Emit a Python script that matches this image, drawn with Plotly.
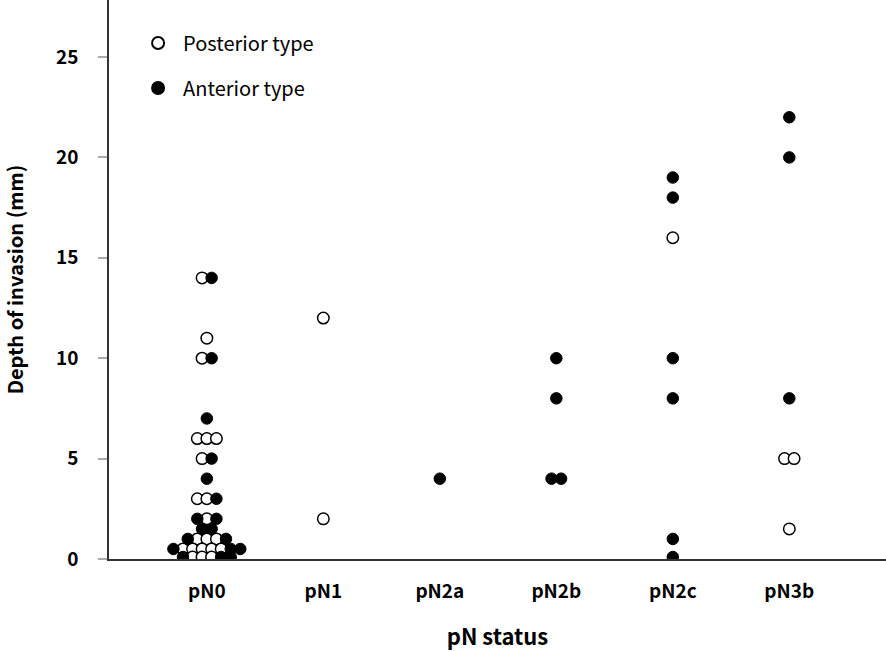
import plotly.graph_objects as go

categories = ["pN0", "pN1", "pN2a", "pN2b", "pN2c", "pN3b"]

# depth of invasion (mm) per pN group, with type code per point
# P = Posterior type (open), A = Anterior type (filled)
pN0_values = [14, 14, 11, 10, 10, 7, 6, 6, 6, 5, 5, 4, 3, 3, 3, 2, 2, 2, 1.5, 1.5,
              1, 1, 1, 1, 1, 0.5, 0.5, 0.5, 0.5, 0.5, 0.5, 0.5, 0.5,
              0.1, 0.1, 0.1, 0.1, 0.1, 0.1]
pN0_types = "PAPPAAPPPPAAPPAAPAAAAPPPAAPPPPPAAAPPPAA"
pN1_values = [12, 2]
pN1_types = "PP"
pN2a_values = [4]
pN2a_types = "A"
pN2b_values = [10, 8, 4, 4]
pN2b_types = "AAAA"
pN2c_values = [19, 18, 16, 10, 8, 1, 0.1]
pN2c_types = "AAPAAAA"
pN3b_values = [22, 20, 8, 5, 5, 1.5]
pN3b_types = "AAAPPP"

y_ticks = [0, 5, 10, 15, 20, 25]

groups = [
    (pN0_values, pN0_types),
    (pN1_values, pN1_types),
    (pN2a_values, pN2a_types),
    (pN2b_values, pN2b_types),
    (pN2c_values, pN2c_types),
    (pN3b_values, pN3b_types),
]

STEP = 0.082  # beeswarm spacing in category units

pts = {"P": ([], []), "A": ([], [])}
for gi, (vals, types) in enumerate(groups):
    rows = {}
    for v, t in zip(vals, types):
        rows.setdefault(v, []).append(t)
    for v, ts in rows.items():
        n = len(ts)
        for k, t in enumerate(ts):
            pts[t][0].append(gi + (k - (n - 1) / 2) * STEP)
            pts[t][1].append(v)

FONT = "Noto Sans CJK JP"

fig = go.Figure()
fig.add_trace(go.Scatter(
    x=pts["P"][0], y=pts["P"][1], mode="markers", name="Posterior type",
    legendgroup="P",
    marker=dict(size=11.5, color="white", line=dict(color="black", width=1.5)),
))
fig.add_trace(go.Scatter(
    x=pts["A"][0], y=pts["A"][1], mode="markers", name="Anterior type",
    legendgroup="A",
    marker=dict(size=11.5, color="black", line=dict(color="black", width=1)),
))

fig.update_layout(
    width=886, height=652,
    margin=dict(l=109, r=0, t=0, b=93),
    paper_bgcolor="white", plot_bgcolor="white",
    font=dict(family=FONT, color="black"),
    showlegend=True,
    legend=dict(
        x=0.031, y=0.958, xanchor="left", yanchor="top",
        font=dict(family=FONT, size=20, color="black"),
        traceorder="grouped", tracegroupgap=16,
        itemwidth=40,
        bgcolor="rgba(0,0,0,0)", itemsizing="constant",
    ),
    xaxis=dict(
        range=[-0.84, 5.83],
        tickmode="array",
        tickvals=list(range(len(categories))),
        ticktext=[f"<b>{c}</b>" for c in categories],
        tickfont=dict(family=FONT, size=19, color="black"),
        ticks="", showgrid=False, zeroline=False,
        showline=True, linecolor="#333333", linewidth=1.5,
        ticklabelstandoff=14,
        title=dict(text="<b>pN status</b>", font=dict(family=FONT, size=22, color="black"),
                   standoff=28),
    ),
    yaxis=dict(
        range=[0, 27.84],
        tickmode="array",
        tickvals=y_ticks,
        ticktext=[f"<b>{t}</b>" for t in y_ticks],
        tickfont=dict(family=FONT, size=19, color="black"),
        ticks="outside", ticklen=9, tickwidth=1.5, tickcolor="#aaaaaa",
        showgrid=False, zeroline=False,
        showline=True, linecolor="#333333", linewidth=1.5,
        ticklabelstandoff=16,
        title=dict(text="<b>Depth of invasion (mm)</b>", font=dict(family=FONT, size=20, color="black"),
                   standoff=30),
    ),
)

fig.write_html("out.html", config={"displayModeBar": False},
               post_script="document.body.style.margin='0';")
